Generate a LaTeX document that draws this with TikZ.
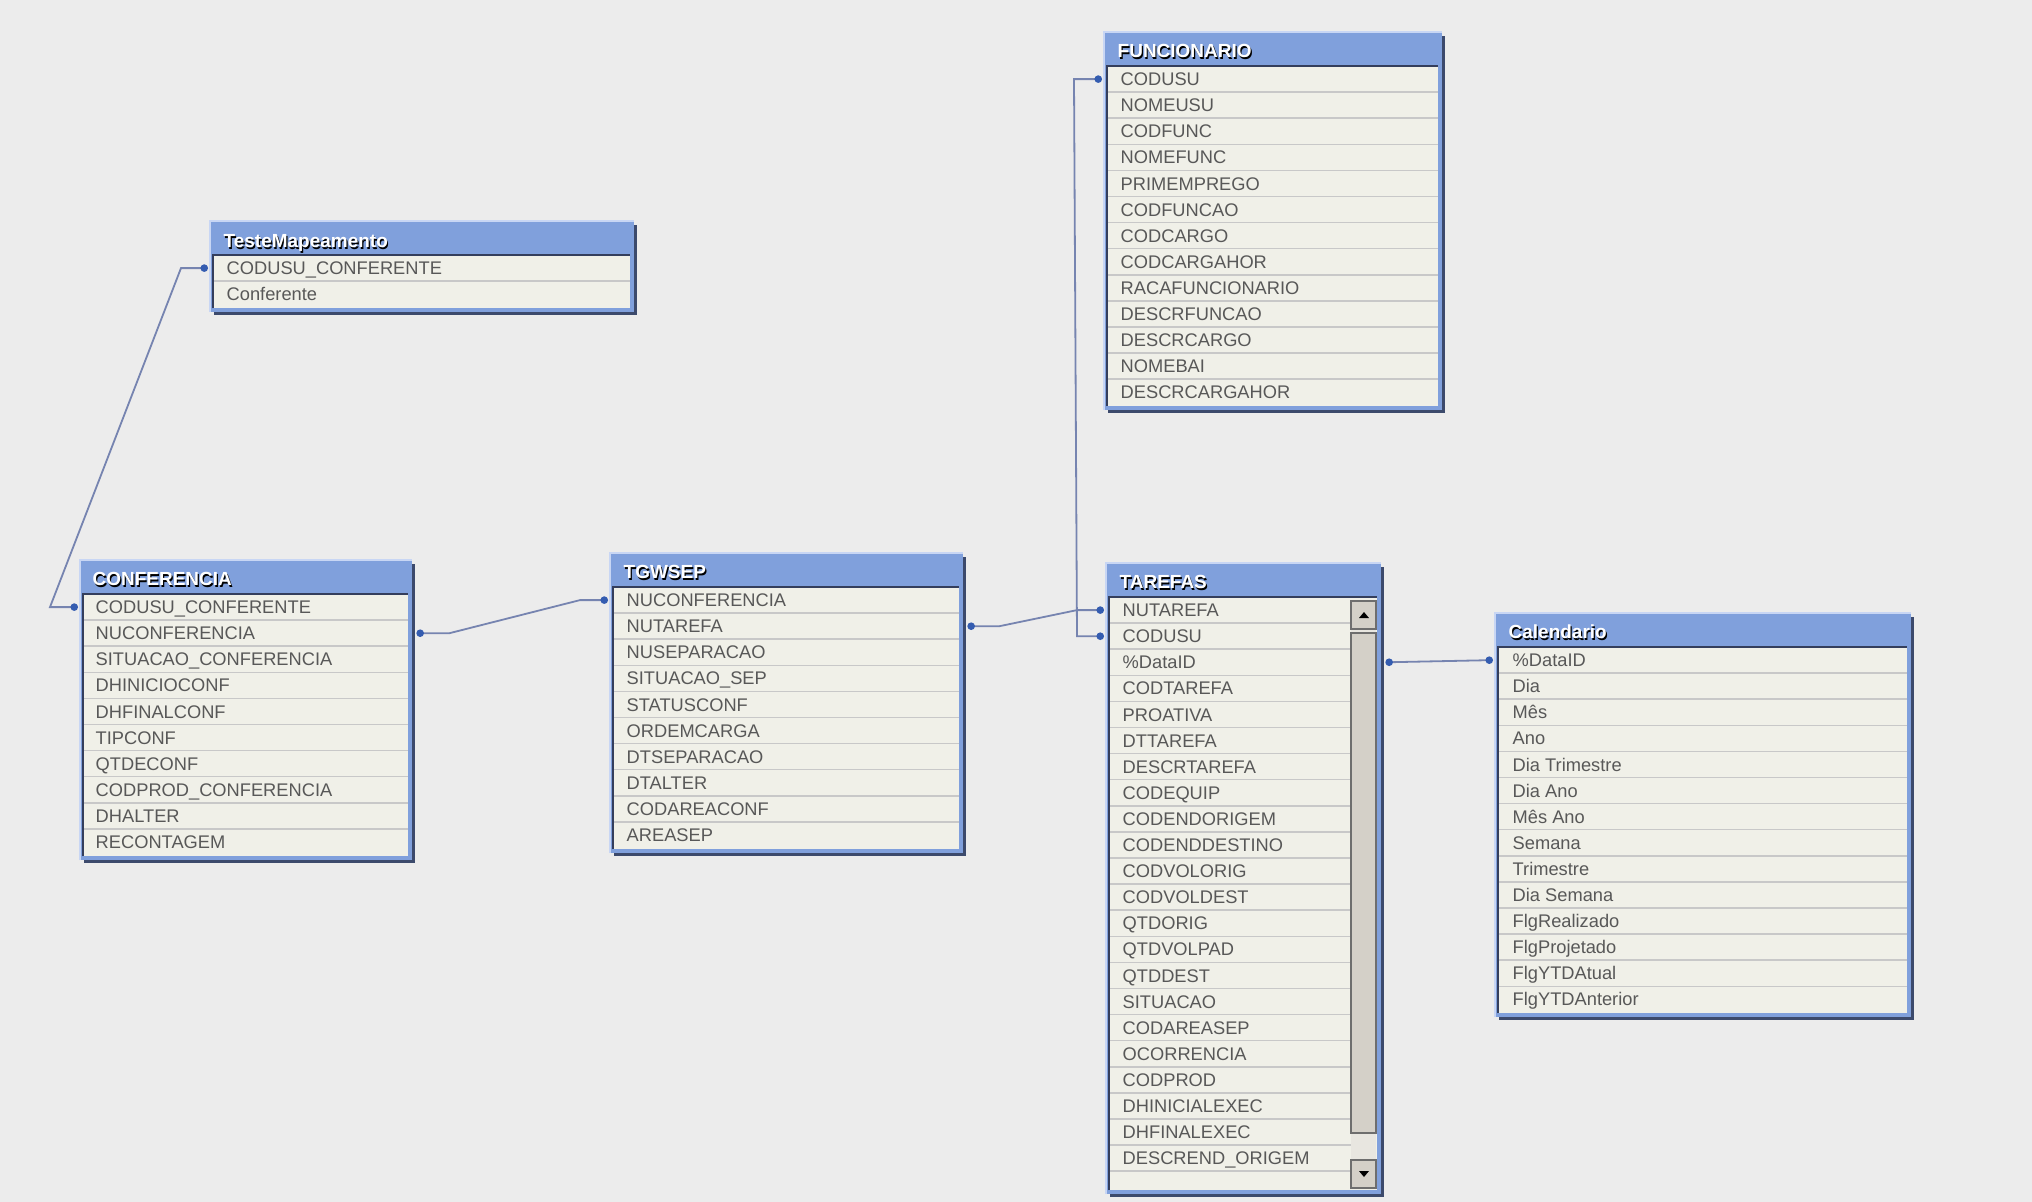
\documentclass[tikz,border=0pt]{standalone}
\usepackage{fontspec}
\newfontfamily\tabfont{Liberation Sans}
\usetikzlibrary{calc, arrows.meta, shadows}
\definecolor{canvas}{RGB}{236,236,236}
\definecolor{hdrblue}{RGB}{128,160,220}
\definecolor{hdrlight}{RGB}{200,214,244}
\definecolor{framedark}{RGB}{60,74,108}
\definecolor{bodyfill}{RGB}{240,240,232}
\definecolor{bodyedge}{RGB}{52,62,92}
\definecolor{rowline}{RGB}{200,200,200}
\definecolor{fieldgray}{RGB}{88,88,88}
\definecolor{linkblue}{RGB}{118,132,176}
\definecolor{dotblue}{RGB}{52,92,176}
\definecolor{btnface}{RGB}{212,208,200}
\definecolor{btnshade}{RGB}{110,110,110}
\definecolor{sbtrack}{RGB}{232,230,224}

% white table title with a hard black drop
\newcommand\hdrtitle[1]{\rlap{\kern0.12mm\raisebox{-0.12mm}{\color{black}#1}}#1}

\begin{document}
\begin{tikzpicture}[x=0.1mm, y=-0.1mm,
    tabframe/.style={rectangle, anchor=north west, inner sep=0pt, fill=hdrblue,
                     drop shadow={shadow xshift=0.35mm, shadow yshift=-0.35mm,
                                  fill=framedark, opacity=1}},
    tabtitle/.style={anchor=west, inner sep=0pt, text=white, text height=1.36mm,
                     text depth=0pt, font=\tabfont\bfseries\fontsize{5.4pt}{6pt}\selectfont},
    field/.style={anchor=west, inner sep=0pt, text=fieldgray, text height=1.31mm,
                  text depth=0pt, font=\tabfont\fontsize{5.2pt}{6pt}\selectfont},
    bodybox/.style={fill=bodyfill},
    bodyrim/.style={draw=bodyedge, line width=0.2mm},
    rimlight/.style={draw=hdrlight, line width=0.15mm},
    rowsep/.style={draw=rowline, line width=0.15mm},
    link/.style={draw=linkblue, line width=0.18mm,
                 {Circle[length=0.75mm, color=dotblue]}-{Circle[length=0.75mm, color=dotblue]}},
    sbbtn/.style={fill=btnface, draw=btnshade, line width=0.15mm},
]

\fill[canvas] (0,0) rectangle (2032,1202);
\useasboundingbox (0,0) rectangle (2032,1202);

% ─── TesteMapeamento ─────────────────────────────────────────────
\node[tabframe, minimum width=42.3mm, minimum height=9.0mm] (teste) at (210,221) {};
\draw[rimlight] (teste.south west) -- (teste.north west) -- (teste.north east);
\fill[bodybox] ($(teste.north west)+(3,34)$) rectangle ($(teste.south east)+(-4,-4)$);
\draw[rowsep] ($(teste.north west)+(3,60.1)$) -- ($(teste.north east)+(-4,60.1)$);
\draw[bodyrim] ($(teste.south west)+(3,-4)$) |- ($(teste.north east)+(-4,34)$);
\node[tabtitle] (teste-t) at ($(teste.north west)+(13,20)$) {\hdrtitle{TesteMapeamento}};
\foreach \f [count=\i] in {CODUSU\_CONFERENTE, Conferente}
  \node[field] (teste-\i) at ($(teste.north west)+(16,{21+26.1*\i})$) {\f};

% ─── CONFERENCIA ─────────────────────────────────────────────────
\node[tabframe, minimum width=33.1mm, minimum height=29.9mm] (conf) at (80,560) {};
\draw[rimlight] (conf.south west) -- (conf.north west) -- (conf.north east);
\fill[bodybox] ($(conf.north west)+(3,34)$) rectangle ($(conf.south east)+(-4,-4)$);
\foreach \i in {1,...,9}
  \draw[rowsep] ($(conf.north west)+(3,{34+26.1*\i})$) -- ($(conf.north east)+(-4,{34+26.1*\i})$);
\draw[bodyrim] ($(conf.south west)+(3,-4)$) |- ($(conf.north east)+(-4,34)$);
\node[tabtitle] (conf-t) at ($(conf.north west)+(12,19)$) {\hdrtitle{CONFERENCIA}};
\foreach \f [count=\i] in {CODUSU\_CONFERENTE, NUCONFERENCIA, SITUACAO\_CONFERENCIA,
    DHINICIOCONF, DHFINALCONF, TIPCONF, QTDECONF, CODPROD\_CONFERENCIA, DHALTER, RECONTAGEM}
  \node[field] (conf-\i) at ($(conf.north west)+(15,{21+26.1*\i})$) {\f};

% ─── TGWSEP ──────────────────────────────────────────────────────
\node[tabframe, minimum width=35.2mm, minimum height=29.9mm] (tgw) at (610,553) {};
\draw[rimlight] (tgw.south west) -- (tgw.north west) -- (tgw.north east);
\fill[bodybox] ($(tgw.north west)+(3,34)$) rectangle ($(tgw.south east)+(-4,-4)$);
\foreach \i in {1,...,9}
  \draw[rowsep] ($(tgw.north west)+(3,{34+26.1*\i})$) -- ($(tgw.north east)+(-4,{34+26.1*\i})$);
\draw[bodyrim] ($(tgw.south west)+(3,-4)$) |- ($(tgw.north east)+(-4,34)$);
\node[tabtitle] (tgw-t) at ($(tgw.north west)+(13,19)$) {\hdrtitle{TGWSEP}};
\foreach \f [count=\i] in {NUCONFERENCIA, NUTAREFA, NUSEPARACAO, SITUACAO\_SEP, STATUSCONF,
    ORDEMCARGA, DTSEPARACAO, DTALTER, CODAREACONF, AREASEP}
  \node[field] (tgw-\i) at ($(tgw.north west)+(16,{21+26.1*\i})$) {\f};

% ─── FUNCIONARIO ─────────────────────────────────────────────────
\node[tabframe, minimum width=33.7mm, minimum height=37.7mm] (func) at (1104,32) {};
\draw[rimlight] (func.south west) -- (func.north west) -- (func.north east);
\fill[bodybox] ($(func.north west)+(3,34)$) rectangle ($(func.south east)+(-4,-4)$);
\foreach \i in {1,...,12}
  \draw[rowsep] ($(func.north west)+(3,{34+26.1*\i})$) -- ($(func.north east)+(-4,{34+26.1*\i})$);
\draw[bodyrim] ($(func.south west)+(3,-4)$) |- ($(func.north east)+(-4,34)$);
\node[tabtitle] (func-t) at ($(func.north west)+(13,19)$) {\hdrtitle{FUNCIONARIO}};
\foreach \f [count=\i] in {CODUSU, NOMEUSU, CODFUNC, NOMEFUNC, PRIMEMPREGO, CODFUNCAO, CODCARGO,
    CODCARGAHOR, RACAFUNCIONARIO, DESCRFUNCAO, DESCRCARGO, NOMEBAI, DESCRCARGAHOR}
  \node[field] (func-\i) at ($(func.north west)+(16,{21+26.1*\i})$) {\f};

% ─── TAREFAS (scrolled list) ─────────────────────────────────────
\node[tabframe, minimum width=27.4mm, minimum height=63.0mm] (tar) at (1106,563) {};
\draw[rimlight] (tar.south west) -- (tar.north west) -- (tar.north east);
\fill[bodybox] ($(tar.north west)+(3,34)$) rectangle ($(tar.south east)+(-4,-4)$);
\foreach \i in {1,...,22}
  \draw[rowsep] ($(tar.north west)+(3,{34+26.1*\i})$) -- ($(tar.north east)+(-30,{34+26.1*\i})$);
\draw[bodyrim] ($(tar.south west)+(3,-4)$) |- ($(tar.north east)+(-4,34)$);
\node[tabtitle] (tar-t) at ($(tar.north west)+(13,19)$) {\hdrtitle{TAREFAS}};
\foreach \f [count=\i] in {NUTAREFA, CODUSU, \%DataID, CODTAREFA, PROATIVA, DTTAREFA, DESCRTAREFA,
    CODEQUIP, CODENDORIGEM, CODENDDESTINO, CODVOLORIG, CODVOLDEST, QTDORIG, QTDVOLPAD, QTDDEST,
    SITUACAO, CODAREASEP, OCORRENCIA, CODPROD, DHINICIALEXEC, DHFINALEXEC, DESCREND\_ORIGEM}
  \node[field] (tar-\i) at ($(tar.north west)+(16,{21+26.1*\i})$) {\f};

% scroll bar
\fill[sbtrack] (1351,600) rectangle (1376,1188);
\filldraw[sbbtn] (1351,601) rectangle (1376,629);
\fill (1359,618) -- (1369,618) -- (1364,612) -- cycle;
\filldraw[sbbtn] (1351,633) rectangle (1376,1133);
\filldraw[sbbtn] (1351,1160) rectangle (1376,1188);
\fill (1359,1171) -- (1369,1171) -- (1364,1177) -- cycle;

% ─── Calendario ──────────────────────────────────────────────────
\node[tabframe, minimum width=41.5mm, minimum height=40.3mm] (cal) at (1495,613) {};
\draw[rimlight] (cal.south west) -- (cal.north west) -- (cal.north east);
\fill[bodybox] ($(cal.north west)+(3,34)$) rectangle ($(cal.south east)+(-4,-4)$);
\foreach \i in {1,...,13}
  \draw[rowsep] ($(cal.north west)+(3,{34+26.1*\i})$) -- ($(cal.north east)+(-4,{34+26.1*\i})$);
\draw[bodyrim] ($(cal.south west)+(3,-4)$) |- ($(cal.north east)+(-4,34)$);
\node[tabtitle] (cal-t) at ($(cal.north west)+(13,19)$) {\hdrtitle{Calendario}};
\foreach \f [count=\i] in {\%DataID, Dia, Mês, Ano, Dia Trimestre, Dia Ano, Mês Ano, Semana,
    Trimestre, Dia Semana, FlgRealizado, FlgProjetado, FlgYTDAtual, FlgYTDAnterior}
  \node[field] (cal-\i) at ($(cal.north west)+(17,{21+26.1*\i})$) {\f};

% ─── Associations ────────────────────────────────────────────────
\draw[link] ($(conf.west |- conf-1)+(-2,0)$) -- ++(-28,0)
  -- ($(teste.west |- teste-1)+(-29,0)$) -- ($(teste.west |- teste-1)+(-2,0)$);
\draw[link] ($(conf.east |- conf-2)+(4,0)$) -- ++(33,0)
  -- ($(tgw.west |- tgw-1)+(-30,0)$) -- ($(tgw.west |- tgw-1)+(-2,0)$);
\draw[link] ($(tgw.east |- tgw-2)+(4,0)$) -- ++(32,0)
  -- ($(tar.west |- tar-1)+(-29,0)$) -- ($(tar.west |- tar-1)+(-2,0)$);
\draw[link] ($(func.west |- func-1)+(-2,0)$) -- ++(-28,0)
  -- ($(tar.west |- tar-2)+(-29,0)$) -- ($(tar.west |- tar-2)+(-2,0)$);
\draw[link] ($(tar.east |- tar-3)+(4,0)$) -- ($(cal.west |- cal-1)+(-2,0)$);

\end{tikzpicture}
\end{document}
